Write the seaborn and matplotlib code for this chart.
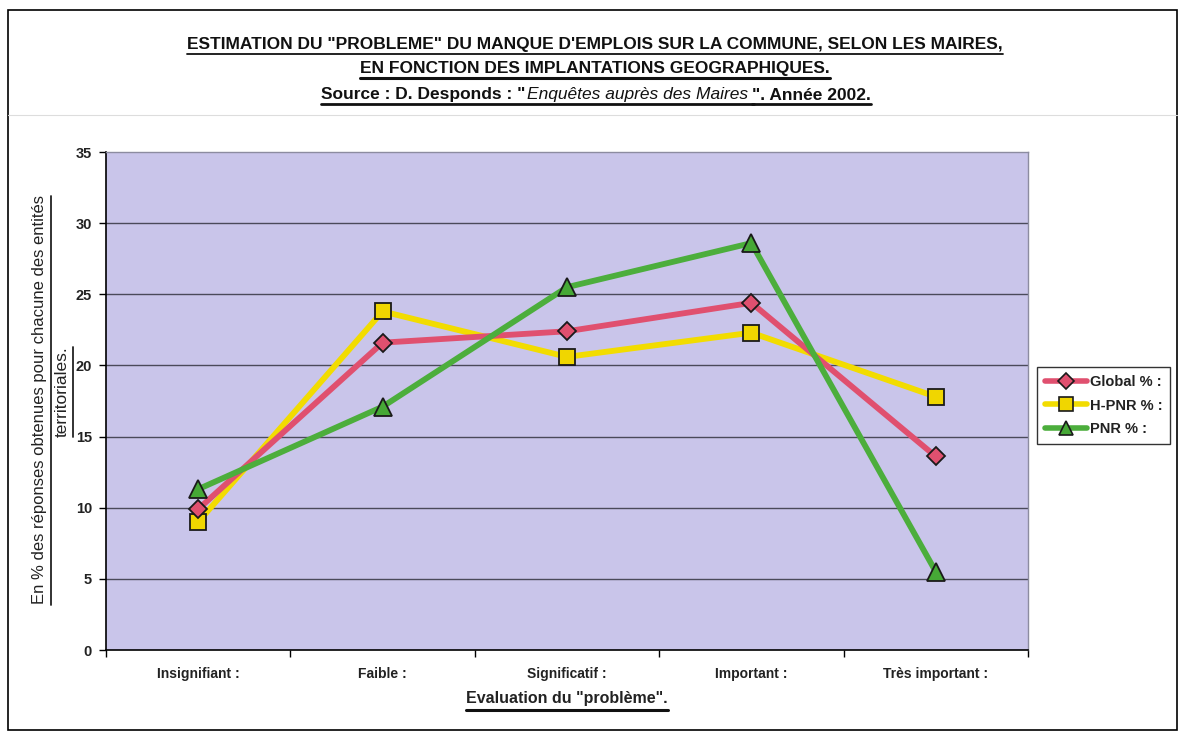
import matplotlib
matplotlib.use("Agg")
import matplotlib.pyplot as plt
import seaborn as sns
import pandas as pd
from matplotlib.lines import Line2D
from matplotlib.patches import Rectangle

# ---- data ----
categories = ["Insignifiant :", "Faible :", "Significatif :", "Important :", "Très important :"]
global_pct = [9.9, 21.6, 22.4, 24.4, 13.6]
hpnr_pct = [9.0, 23.8, 20.6, 22.3, 17.8]
pnr_pct = [11.3, 17.1, 25.5, 28.6, 5.5]
series_names = ["Global % :", "H-PNR % :", "PNR % :"]
y_ticks = [0, 5, 10, 15, 20, 25, 30, 35]

title_line1 = "ESTIMATION DU \"PROBLEME\" DU MANQUE D'EMPLOIS SUR LA COMMUNE, SELON LES MAIRES,"
title_line2 = "EN FONCTION DES IMPLANTATIONS GEOGRAPHIQUES."
src_part1 = "Source : D. Desponds : \""
src_part2 = "Enquêtes auprès des Maires"
src_part3 = "\". Année 2002."
ylabel1 = "En % des réponses obtenues pour chacune des entités"
ylabel2 = "territoriales."
xlabel = "Evaluation du \"problème\"."

sns.set_theme(style="white")
plt.rcParams['font.family'] = ['Liberation Sans', 'DejaVu Sans']

W, H = 1179, 733
fig = plt.figure(figsize=(W / 100, H / 100), dpi=100)
fig.patch.set_facecolor("white")

def fx(px):
    return px / W

def fy(py):
    return 1 - py / H

ax = fig.add_axes([fx(106), fy(650), fx(1028) - fx(106), fy(152) - fy(650)])
ax.set_facecolor("#c9c5ea")

df = pd.DataFrame({"pos": list(range(len(categories))) * 3,
                   "val": global_pct + hpnr_pct + pnr_pct,
                   "serie": [series_names[0]] * 5 + [series_names[1]] * 5 + [series_names[2]] * 5})

styles = {
    series_names[1]: dict(color="#f2dc00", marker="s", ms=12, mfc="#f0d600", z=3),
    series_names[0]: dict(color="#e0506f", marker="D", ms=9.5, mfc="#e0506f", z=4),
    series_names[2]: dict(color="#4cae3c", marker="^", ms=12.5, mfc="#46a836", z=5),
}
for name in [series_names[1], series_names[0], series_names[2]]:
    st = styles[name]
    sub = df[df["serie"] == name]
    sns.lineplot(data=sub, x="pos", y="val", ax=ax, color=st["color"], linewidth=4.2,
                 marker=st["marker"], markersize=st["ms"], markerfacecolor=st["mfc"],
                 markeredgecolor="#1a1a1a", markeredgewidth=1.3, zorder=st["z"], legend=False)

ax.set_xlim(-0.5, len(categories) - 0.5)
ax.set_ylim(0, 35)
ax.set_yticks(y_ticks)
ax.set_yticklabels([str(v) for v in y_ticks], fontsize=10.5, fontweight="bold", color="#222222")
ax.set_xticks(range(len(categories)))
ax.set_xticklabels(categories, fontsize=10, fontweight="bold", color="#222222")
ax.set_xticks([i - 0.5 for i in range(len(categories) + 1)], minor=True)
ax.tick_params(axis="x", which="major", length=0, pad=12)
ax.tick_params(axis="x", which="minor", length=5, width=1, color="black", direction="out", bottom=True)
ax.tick_params(axis="y", which="major", length=5, width=1, color="black", direction="out", left=True, pad=5)
ax.set_xlabel("")
ax.set_ylabel("")
for yv in y_ticks[1:-1]:
    ax.axhline(yv, color="#4a4a5a", linewidth=1.0, zorder=1)
for s in ["left", "bottom"]:
    ax.spines[s].set_color("black")
    ax.spines[s].set_linewidth(1.2)
for s in ["top", "right"]:
    ax.spines[s].set_color("#8c8ca0")
    ax.spines[s].set_linewidth(1.0)

# legend
handles = [Line2D([0], [0], color=styles[n]["color"], linewidth=4, marker=styles[n]["marker"],
                  markersize=styles[n]["ms"] * 0.85, markerfacecolor=styles[n]["mfc"],
                  markeredgecolor="#1a1a1a", markeredgewidth=1.2) for n in series_names]
leg = fig.legend(handles, series_names, loc="upper left", bbox_to_anchor=(fx(1037), fy(367)),
                 frameon=True, fontsize=10.5, handlelength=2.9, handletextpad=0.15,
                 borderpad=0.55, labelspacing=0.65, fancybox=False, borderaxespad=0)
leg.get_frame().set_edgecolor("black")
leg.get_frame().set_linewidth(1.0)
for t in leg.get_texts():
    t.set_fontweight("bold")
    t.set_color("#222222")

# outer frame & faint separator
fig.add_artist(Rectangle((fx(8), fy(730)), fx(1177) - fx(8), fy(10) - fy(730), transform=fig.transFigure,
                         fill=False, edgecolor="black", linewidth=1.2))
fig.add_artist(Line2D([fx(8), fx(1177)], [fy(115), fy(115)], transform=fig.transFigure,
                      color="#dddddd", linewidth=0.8))

# titles
TFS = 12.5
t1 = fig.text(fx(595), fy(45), title_line1, ha="center", va="center", fontsize=TFS, fontweight="bold", color="#111111")
t2 = fig.text(fx(595), fy(69), title_line2, ha="center", va="center", fontsize=TFS, fontweight="bold", color="#111111")

fig.canvas.draw()
renderer = fig.canvas.get_renderer()

# third title line assembled from parts
kw_b = dict(fontsize=TFS, fontweight="bold", color="#111111", va="center", ha="left")
kw_i = dict(fontsize=TFS, fontstyle="italic", color="#111111", va="center", ha="left")
p1 = fig.text(0, fy(95), src_part1, **kw_b)
p2 = fig.text(0, fy(95), src_part2, **kw_i)
p3 = fig.text(0, fy(95), src_part3, **kw_b)
ws = [p.get_window_extent(renderer).width for p in (p1, p2, p3)]
total = sum(ws) + 5
x0 = 596 - total / 2
p1.set_x(fx(x0))
p2.set_x(fx(x0 + ws[0] + 1))
p3.set_x(fx(x0 + ws[0] + ws[1] + 5))

# y label (rotated)
yl1 = fig.text(fx(40), fy(400), ylabel1, rotation=90, ha="center", va="center", fontsize=12, color="#222222")
yl2 = fig.text(fx(62), fy(392), ylabel2, rotation=90, ha="center", va="center", fontsize=12.5, color="#222222")
# x label
xl = fig.text(fx(567), fy(699), xlabel, ha="center", va="center", fontsize=11.5, fontweight="bold", color="#222222")

fig.canvas.draw()
renderer = fig.canvas.get_renderer()

def underline(txt, offset=3, lw=1.3, x_start=None, x_end=None):
    bb = txt.get_window_extent(renderer)
    xa = bb.x0 if x_start is None else x_start
    xb = bb.x1 if x_end is None else x_end
    y = bb.y0 - offset
    fig.add_artist(Line2D([xa / W, xb / W], [y / H, y / H], transform=fig.transFigure, color="#111111", linewidth=lw))

def vunderline(txt, offset=3, lw=1.3):
    bb = txt.get_window_extent(renderer)
    x = bb.x1 + offset
    fig.add_artist(Line2D([x / W, x / W], [bb.y0 / H, bb.y1 / H], transform=fig.transFigure, color="#222222", linewidth=lw))

underline(t1, offset=1)
underline(t2, offset=1, lw=2.2)
bb2 = p2.get_window_extent(renderer)
underline(p1, offset=1, lw=2.0, x_end=bb2.x1 + 6)
underline(p3, offset=1, lw=2.0)
underline(xl, lw=2.2)
vunderline(yl1)
vunderline(yl2)

fig.savefig("out.png", dpi=100)
